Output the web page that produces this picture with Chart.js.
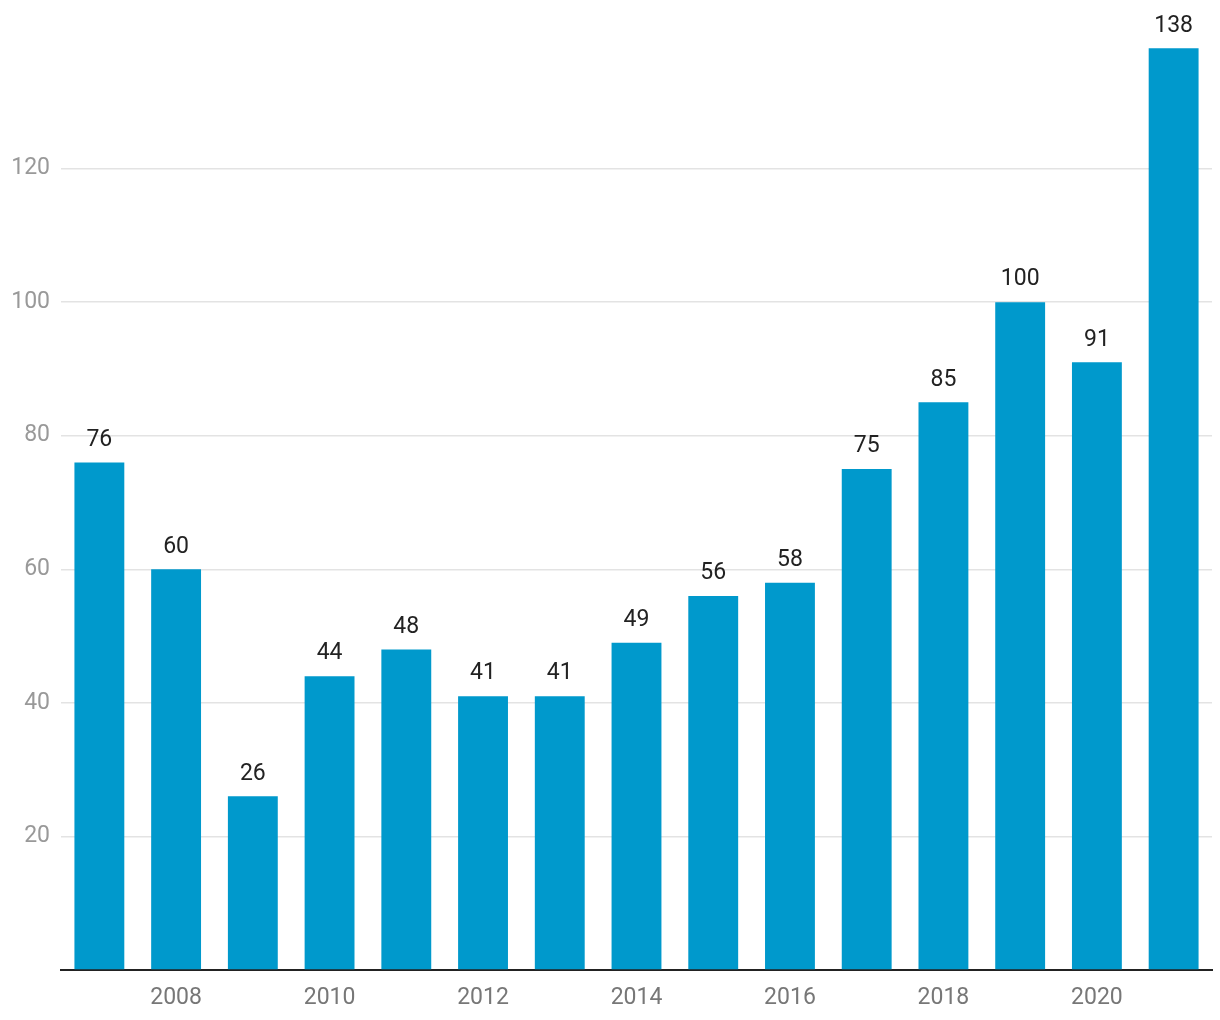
<!DOCTYPE html>
<html>
<head>
<meta charset="utf-8">
<script src="https://cdn.jsdelivr.net/npm/chart.js@4"></script>
<style>
  html, body { margin: 0; padding: 0; background: #fff; }
  #wrap { width: 1220px; height: 1020px; }
</style>
</head>
<body>
<div id="wrap"><canvas id="barChart" width="1220" height="1020"></canvas></div>
<script>
const years = ['2007', '2008', '2009', '2010', '2011', '2012', '2013', '2014', '2015', '2016', '2017', '2018', '2019', '2020', '2021'];
const counts = [76, 60, 26, 44, 48, 41, 41, 49, 56, 58, 75, 85, 100, 91, 138];
const yTicks = [20, 40, 60, 80, 100, 120];

// value labels above each bar
const barLabels = {
  id: 'barLabels',
  afterDatasetsDraw(chart) {
    const ctx = chart.ctx;
    const meta = chart.getDatasetMeta(0);
    ctx.save();
    ctx.fillStyle = '#222';
    ctx.font = '23px Roboto';
    ctx.textAlign = 'center';
    ctx.textBaseline = 'bottom';
    meta.data.forEach((bar, i) => {
      ctx.fillText(counts[i], bar.x, bar.y - 11);
    });
    ctx.restore();
  }
};

const ctx = document.getElementById('barChart').getContext('2d');
new Chart(ctx, {
  type: 'bar',
  data: {
    labels: years,
    datasets: [{
      data: counts,
      backgroundColor: '#0099cc',
      barPercentage: 0.65,
      categoryPercentage: 1
    }]
  },
  options: {
    responsive: false,
    animation: false,
    layout: { padding: { top: 35, right: 8, left: 0, bottom: 0 } },
    plugins: {
      legend: { display: false },
      tooltip: { enabled: false }
    },
    scales: {
      x: {
        grid: { display: false, drawTicks: false },
        border: { color: '#222', width: 2 },
        afterFit: (scale) => { scale.height = 50; },
        ticks: {
          autoSkip: false,
          maxRotation: 0,
          padding: 14,
          color: '#777',
          font: { family: 'Roboto', size: 23 },
          callback: function(val, idx) {
            const y = years[idx];
            return parseInt(y, 10) % 2 === 0 ? y : '';
          }
        }
      },
      y: {
        min: 0,
        max: 140,
        border: { display: false },
        afterFit: (scale) => { scale.width = 61; },
        afterBuildTicks: (scale) => {
          scale.ticks = [0].concat(yTicks, [140]).map(v => ({ value: v }));
        },
        grid: {
          drawTicks: false,
          lineWidth: 1.5,
          color: (c) => yTicks.includes(c.tick.value) ? '#e3e3e3' : 'rgba(0,0,0,0)'
        },
        ticks: {
          padding: 11,
          color: '#999',
          font: { family: 'Roboto', size: 23 },
          callback: (v) => yTicks.includes(v) ? v : ''
        }
      }
    }
  },
  plugins: [barLabels]
});
</script>
</body>
</html>
